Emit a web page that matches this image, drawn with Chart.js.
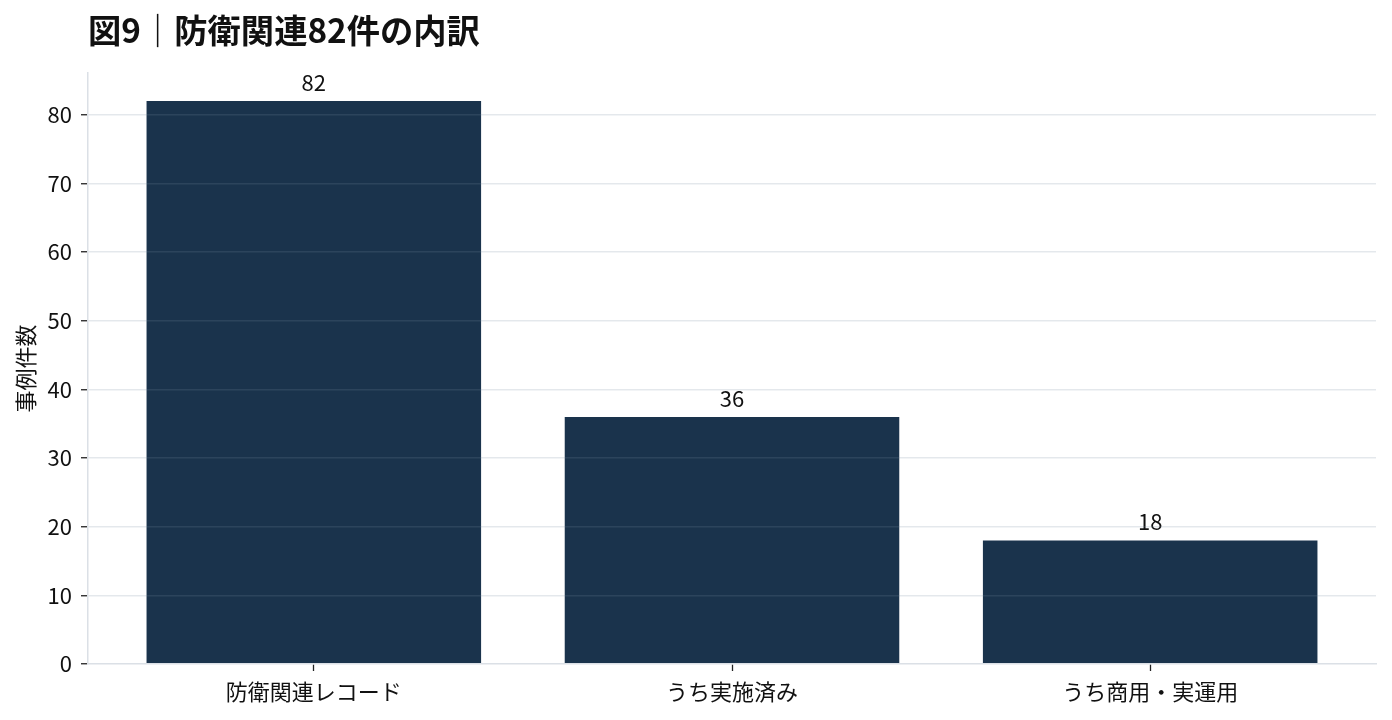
<!DOCTYPE html>
<html lang="ja">
<head>
<meta charset="utf-8">
<title>図9｜防衛関連82件の内訳</title>
<script src="https://cdn.jsdelivr.net/npm/chart.js@4/dist/chart.umd.min.js"></script>
<style>
  html, body { margin: 0; padding: 0; background: #fff; }
  #wrap { width: 1392px; height: 720px; }
</style>
</head>
<body>
<div id="wrap"><canvas id="chart" width="1392" height="720"></canvas></div>
<script>
// data
const categories = ['防衛関連レコード', 'うち実施済み', 'うち商用・実運用'];
const counts = [82, 36, 18];
const yTicks = [0, 10, 20, 30, 40, 50, 60, 70, 80];

const FONT = '"Noto Sans CJK JP", "Noto Sans", sans-serif';
const BAR = '#1a334c';
const SPINE = '#dbe0e6';
const TXT = 22;

// value labels above each bar
const barLabels = {
    id: 'barLabels',
    afterDatasetsDraw(chart) {
        const ctx = chart.ctx;
        const meta = chart.getDatasetMeta(0);
        ctx.save();
        ctx.font = TXT + 'px ' + FONT;
        ctx.fillStyle = '#111';
        ctx.textAlign = 'center';
        ctx.textBaseline = 'alphabetic';
        meta.data.forEach((bar, i) => {
            ctx.fillText(String(counts[i]), bar.x, bar.y - 10);
        });
        ctx.restore();
    }
};

new Chart(document.getElementById('chart'), {
    type: 'bar',
    data: {
        datasets: [{
            data: counts.map((v, i) => ({ x: i, y: v })),
            backgroundColor: BAR,
            borderWidth: 0,
            categoryPercentage: 0.8,
            barPercentage: 1.0
        }]
    },
    options: {
        responsive: false,
        devicePixelRatio: 1,
        animation: false,
        layout: { padding: { left: 0, right: 16, top: 0, bottom: 0 } },
        plugins: {
            legend: { display: false },
            tooltip: { enabled: false },
            title: {
                display: true,
                text: '図9｜防衛関連82件の内訳',
                align: 'start',
                fullSize: false,
                color: '#111',
                font: { family: FONT, size: 33.3, weight: 'bold', lineHeight: 1.2 },
                padding: { top: 10, bottom: 23 }
            }
        },
        scales: {
            x: {
                type: 'linear',
                min: -0.54,
                max: 2.54,
                offset: false,
                afterBuildTicks: s => { s.ticks = categories.map((c, i) => ({ value: i })); },
                afterFit: s => { s.height = 56; },
                ticks: {
                    callback: v => categories[v],
                    color: '#111',
                    font: { family: FONT, size: TXT },
                    padding: 7,
                    maxRotation: 0,
                    autoSkip: false
                },
                grid: { offset: false, drawOnChartArea: false, drawTicks: true, tickLength: 7, tickColor: '#222', tickWidth: 1.3 },
                border: { color: SPINE, width: 1.5, z: 1 }
            },
            y: {
                min: 0,
                max: 86.1,
                afterBuildTicks: s => { s.ticks = yTicks.map(v => ({ value: v })); },
                afterFit: s => { s.width = 88; },
                ticks: {
                    color: '#111',
                    font: { family: FONT, size: TXT },
                    padding: 9
                },
                grid: {
                    z: 1,
                    color: c => (c.tick && c.tick.value === 0) ? 'rgba(0,0,0,0)' : 'rgba(120,140,160,0.2)',
                    lineWidth: 1.5,
                    tickLength: 7,
                    tickColor: '#222',
                    tickWidth: 1.3
                },
                border: { color: SPINE, width: 1.5, z: 1 },
                title: {
                    display: true,
                    text: '事例件数',
                    color: '#111',
                    font: { family: FONT, size: TXT },
                    padding: { top: 12, bottom: 0 }
                }
            }
        }
    },
    plugins: [barLabels]
});
</script>
</body>
</html>
